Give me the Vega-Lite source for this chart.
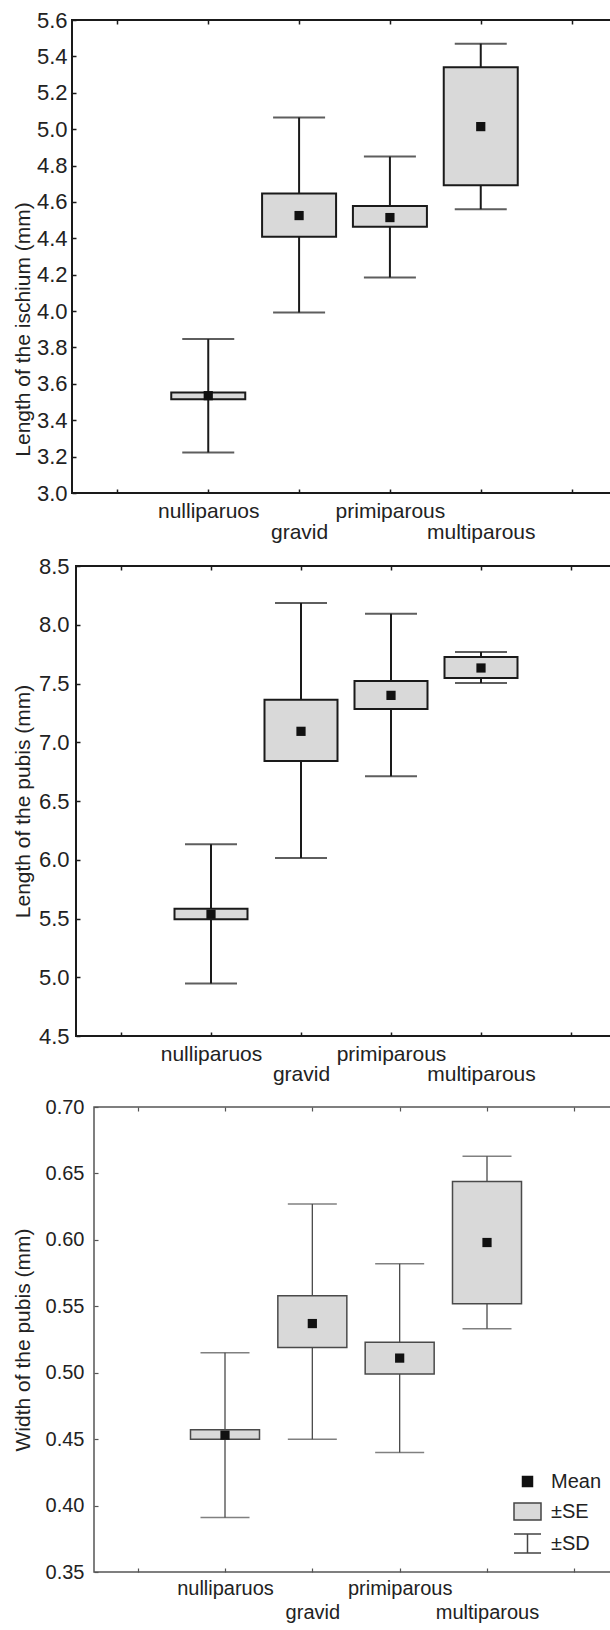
{
  "$schema": "https://vega.github.io/schema/vega-lite/v6.json",
  "padding": {"left": 10, "top": 8, "right": 0, "bottom": 0},
  "background": "white",
  "columns": 2,
  "align": "none",
  "spacing": {"row": 11, "column": 0},
  "resolve": {"legend": {"shape": "independent", "fill": "independent", "stroke": "independent"}},
  "config": {
    "font": "Liberation Sans",
    "axis": {"labelColor": "#222222", "titleColor": "#222222", "labelOverlap": false, "grid": false, "domain": false, "titleFontWeight": "normal"}
  },
  "concat": [
    {"width": 1, "height": 1, "view": {"stroke": null}, "data": {"values": []}, "mark": "point"},
    {
      "width": 540, "height": 473,
      "view": {"stroke": "#1a1a1a", "strokeWidth": 2},
      "data": {"values": [
        {"group": "nulliparuos", "mean": 3.535, "seLow": 3.516, "seHigh": 3.553, "sdLow": 3.223, "sdHigh": 3.846},
        {"group": "gravid", "mean": 4.525, "seLow": 4.408, "seHigh": 4.646, "sdLow": 3.992, "sdHigh": 5.064},
        {"group": "primiparous", "mean": 4.514, "seLow": 4.463, "seHigh": 4.578, "sdLow": 4.185, "sdHigh": 4.849},
        {"group": "multiparous", "mean": 5.014, "seLow": 4.692, "seHigh": 5.340, "sdLow": 4.560, "sdHigh": 5.470}
      ]},
      "resolve": {"axis": {"x": "independent"}},
      "layer": [
        {"mark": {"type": "rule", "color": "#1a1a1a", "strokeWidth": 2},
         "encoding": {
           "x": {"field": "group", "type": "nominal", "scale": {"type": "point", "domain": [" ", "nulliparuos", "gravid", "primiparous", "multiparous", "  "], "padding": 0.5, "range": [0, 545]}, "axis": null},
           "y": {"field": "sdLow", "type": "quantitative", "scale": {"domain": [3.0, 5.6], "nice": false, "zero": false},
                 "axis": {"title": "Length of the ischium (mm)", "values": [3.0, 3.2, 3.4, 3.6, 3.8, 4.0, 4.2, 4.4, 4.6, 4.8, 5.0, 5.2, 5.4, 5.6], "format": ".1f", "tickSize": -4, "tickWidth": 1.5, "tickColor": "#1a1a1a", "labelPadding": 9, "labelFontSize": 22, "titleFontSize": 21, "titleBaseline": "top", "titleX": -60, "titleY": 309}},
           "y2": {"field": "sdHigh"}}},
        {"mark": {"type": "tick", "color": "#1a1a1a", "thickness": 2, "size": 52},
         "encoding": {
           "x": {"field": "group", "type": "nominal", "scale": {"type": "point", "domain": [" ", "nulliparuos", "gravid", "primiparous", "multiparous", "  "], "padding": 0.5, "range": [0, 545]}, "axis": null},
           "y": {"field": "sdLow", "type": "quantitative", "scale": {"domain": [3.0, 5.6], "nice": false, "zero": false},
                 "axis": {"title": "Length of the ischium (mm)", "values": [3.0, 3.2, 3.4, 3.6, 3.8, 4.0, 4.2, 4.4, 4.6, 4.8, 5.0, 5.2, 5.4, 5.6], "format": ".1f", "tickSize": -4, "tickWidth": 1.5, "tickColor": "#1a1a1a", "labelPadding": 9, "labelFontSize": 22, "titleFontSize": 21, "titleBaseline": "top", "titleX": -60, "titleY": 309}}}},
        {"mark": {"type": "tick", "color": "#1a1a1a", "thickness": 2, "size": 52},
         "encoding": {
           "x": {"field": "group", "type": "nominal", "scale": {"type": "point", "domain": [" ", "nulliparuos", "gravid", "primiparous", "multiparous", "  "], "padding": 0.5, "range": [0, 545]}, "axis": null},
           "y": {"field": "sdHigh", "type": "quantitative", "scale": {"domain": [3.0, 5.6], "nice": false, "zero": false},
                 "axis": {"title": "Length of the ischium (mm)", "values": [3.0, 3.2, 3.4, 3.6, 3.8, 4.0, 4.2, 4.4, 4.6, 4.8, 5.0, 5.2, 5.4, 5.6], "format": ".1f", "tickSize": -4, "tickWidth": 1.5, "tickColor": "#1a1a1a", "labelPadding": 9, "labelFontSize": 22, "titleFontSize": 21, "titleBaseline": "top", "titleX": -60, "titleY": 309}}}},
        {"mark": {"type": "bar", "fill": "#d9d9d9", "stroke": "#1a1a1a", "strokeWidth": 2, "width": 74},
         "encoding": {
           "x": {"field": "group", "type": "nominal", "scale": {"type": "point", "domain": [" ", "nulliparuos", "gravid", "primiparous", "multiparous", "  "], "padding": 0.5, "range": [0, 545]},
                 "axis": {"title": null, "tickSize": -4, "tickWidth": 1.5, "tickColor": "#1a1a1a", "labelPadding": 11, "labelAngle": 0, "labelBaseline": "top", "labelFontSize": 21, "labelLineHeight": 21, "labelExpr": "datum.value == 'gravid' || datum.value == 'multiparous' ? ['', datum.label] : datum.label"}},
           "y": {"field": "seLow", "type": "quantitative", "scale": {"domain": [3.0, 5.6], "nice": false, "zero": false},
                 "axis": {"title": "Length of the ischium (mm)", "values": [3.0, 3.2, 3.4, 3.6, 3.8, 4.0, 4.2, 4.4, 4.6, 4.8, 5.0, 5.2, 5.4, 5.6], "format": ".1f", "tickSize": -4, "tickWidth": 1.5, "tickColor": "#1a1a1a", "labelPadding": 9, "labelFontSize": 22, "titleFontSize": 21, "titleBaseline": "top", "titleX": -60, "titleY": 309}},
           "y2": {"field": "seHigh"}}},
        {"mark": {"type": "point", "shape": "square", "filled": true, "color": "#111111", "size": 85, "opacity": 1},
         "encoding": {
           "x": {"field": "group", "type": "nominal", "scale": {"type": "point", "domain": [" ", "nulliparuos", "gravid", "primiparous", "multiparous", "  "], "padding": 0.5, "range": [0, 545]},
                 "axis": {"orient": "top", "title": null, "labels": false, "tickSize": -4, "tickWidth": 1.5, "tickColor": "#1a1a1a"}},
           "y": {"field": "mean", "type": "quantitative", "scale": {"domain": [3.0, 5.6], "nice": false, "zero": false},
                 "axis": {"title": "Length of the ischium (mm)", "values": [3.0, 3.2, 3.4, 3.6, 3.8, 4.0, 4.2, 4.4, 4.6, 4.8, 5.0, 5.2, 5.4, 5.6], "format": ".1f", "tickSize": -4, "tickWidth": 1.5, "tickColor": "#1a1a1a", "labelPadding": 9, "labelFontSize": 22, "titleFontSize": 21, "titleBaseline": "top", "titleX": -60, "titleY": 309}}}}
      ]
    },
    {"width": 1, "height": 1, "view": {"stroke": null}, "data": {"values": []}, "mark": "point"},
    {
      "width": 536, "height": 470,
      "view": {"stroke": "#1a1a1a", "strokeWidth": 2},
      "data": {"values": [
        {"group": "nulliparuos", "mean": 5.536, "seLow": 5.493, "seHigh": 5.584, "sdLow": 4.946, "sdHigh": 6.131},
        {"group": "gravid", "mean": 7.093, "seLow": 6.840, "seHigh": 7.362, "sdLow": 6.015, "sdHigh": 8.185},
        {"group": "primiparous", "mean": 7.399, "seLow": 7.283, "seHigh": 7.521, "sdLow": 6.710, "sdHigh": 8.094},
        {"group": "multiparous", "mean": 7.632, "seLow": 7.547, "seHigh": 7.726, "sdLow": 7.504, "sdHigh": 7.768}
      ]},
      "resolve": {"axis": {"x": "independent"}},
      "layer": [
        {"mark": {"type": "rule", "color": "#1a1a1a", "strokeWidth": 2},
         "encoding": {
           "x": {"field": "group", "type": "nominal", "scale": {"type": "point", "domain": [" ", "nulliparuos", "gravid", "primiparous", "multiparous", "  "], "padding": 0.5, "range": [0, 540]}, "axis": null},
           "y": {"field": "sdLow", "type": "quantitative", "scale": {"domain": [4.5, 8.5], "nice": false, "zero": false},
                 "axis": {"title": "Length of the pubis (mm)", "values": [4.5, 5.0, 5.5, 6.0, 6.5, 7.0, 7.5, 8.0, 8.5], "format": ".1f", "tickSize": -4, "tickWidth": 1.5, "tickColor": "#1a1a1a", "labelPadding": 11, "labelFontSize": 22, "titleFontSize": 21, "titleBaseline": "top", "titleX": -64}},
           "y2": {"field": "sdHigh"}}},
        {"mark": {"type": "tick", "color": "#1a1a1a", "thickness": 2, "size": 52},
         "encoding": {
           "x": {"field": "group", "type": "nominal", "scale": {"type": "point", "domain": [" ", "nulliparuos", "gravid", "primiparous", "multiparous", "  "], "padding": 0.5, "range": [0, 540]}, "axis": null},
           "y": {"field": "sdLow", "type": "quantitative", "scale": {"domain": [4.5, 8.5], "nice": false, "zero": false},
                 "axis": {"title": "Length of the pubis (mm)", "values": [4.5, 5.0, 5.5, 6.0, 6.5, 7.0, 7.5, 8.0, 8.5], "format": ".1f", "tickSize": -4, "tickWidth": 1.5, "tickColor": "#1a1a1a", "labelPadding": 11, "labelFontSize": 22, "titleFontSize": 21, "titleBaseline": "top", "titleX": -64}}}},
        {"mark": {"type": "tick", "color": "#1a1a1a", "thickness": 2, "size": 52},
         "encoding": {
           "x": {"field": "group", "type": "nominal", "scale": {"type": "point", "domain": [" ", "nulliparuos", "gravid", "primiparous", "multiparous", "  "], "padding": 0.5, "range": [0, 540]}, "axis": null},
           "y": {"field": "sdHigh", "type": "quantitative", "scale": {"domain": [4.5, 8.5], "nice": false, "zero": false},
                 "axis": {"title": "Length of the pubis (mm)", "values": [4.5, 5.0, 5.5, 6.0, 6.5, 7.0, 7.5, 8.0, 8.5], "format": ".1f", "tickSize": -4, "tickWidth": 1.5, "tickColor": "#1a1a1a", "labelPadding": 11, "labelFontSize": 22, "titleFontSize": 21, "titleBaseline": "top", "titleX": -64}}}},
        {"mark": {"type": "bar", "fill": "#d9d9d9", "stroke": "#1a1a1a", "strokeWidth": 2, "width": 73},
         "encoding": {
           "x": {"field": "group", "type": "nominal", "scale": {"type": "point", "domain": [" ", "nulliparuos", "gravid", "primiparous", "multiparous", "  "], "padding": 0.5, "range": [0, 540]},
                 "axis": {"title": null, "tickSize": -4, "tickWidth": 1.5, "tickColor": "#1a1a1a", "labelPadding": 11, "labelAngle": 0, "labelBaseline": "top", "labelFontSize": 21, "labelLineHeight": 20, "labelExpr": "datum.value == 'gravid' || datum.value == 'multiparous' ? ['', datum.label] : datum.label"}},
           "y": {"field": "seLow", "type": "quantitative", "scale": {"domain": [4.5, 8.5], "nice": false, "zero": false},
                 "axis": {"title": "Length of the pubis (mm)", "values": [4.5, 5.0, 5.5, 6.0, 6.5, 7.0, 7.5, 8.0, 8.5], "format": ".1f", "tickSize": -4, "tickWidth": 1.5, "tickColor": "#1a1a1a", "labelPadding": 11, "labelFontSize": 22, "titleFontSize": 21, "titleBaseline": "top", "titleX": -64}},
           "y2": {"field": "seHigh"}}},
        {"mark": {"type": "point", "shape": "square", "filled": true, "color": "#111111", "size": 85, "opacity": 1},
         "encoding": {
           "x": {"field": "group", "type": "nominal", "scale": {"type": "point", "domain": [" ", "nulliparuos", "gravid", "primiparous", "multiparous", "  "], "padding": 0.5, "range": [0, 540]},
                 "axis": {"orient": "top", "title": null, "labels": false, "tickSize": -4, "tickWidth": 1.5, "tickColor": "#1a1a1a"}},
           "y": {"field": "mean", "type": "quantitative", "scale": {"domain": [4.5, 8.5], "nice": false, "zero": false},
                 "axis": {"title": "Length of the pubis (mm)", "values": [4.5, 5.0, 5.5, 6.0, 6.5, 7.0, 7.5, 8.0, 8.5], "format": ".1f", "tickSize": -4, "tickWidth": 1.5, "tickColor": "#1a1a1a", "labelPadding": 11, "labelFontSize": 22, "titleFontSize": 21, "titleBaseline": "top", "titleX": -64}}}}
      ]
    },
    {"width": 1, "height": 1, "view": {"stroke": null}, "data": {"values": []}, "mark": "point"},
    {
      "width": 518, "height": 465,
      "view": {"stroke": "#555555", "strokeWidth": 1.5},
      "data": {"values": [
        {"group": "nulliparuos", "mean": 0.453, "seLow": 0.450, "seHigh": 0.457, "sdLow": 0.391, "sdHigh": 0.515},
        {"group": "gravid", "mean": 0.537, "seLow": 0.519, "seHigh": 0.558, "sdLow": 0.450, "sdHigh": 0.627},
        {"group": "primiparous", "mean": 0.511, "seLow": 0.499, "seHigh": 0.523, "sdLow": 0.440, "sdHigh": 0.582},
        {"group": "multiparous", "mean": 0.598, "seLow": 0.552, "seHigh": 0.644, "sdLow": 0.533, "sdHigh": 0.663}
      ]},
      "resolve": {"axis": {"x": "independent"}},
      "layer": [
        {"mark": {"type": "rule", "color": "#4a4a4a", "strokeWidth": 1.3},
         "encoding": {
           "x": {"field": "group", "type": "nominal", "scale": {"type": "point", "domain": [" ", "nulliparuos", "gravid", "primiparous", "multiparous", "  "], "padding": 0.5, "range": [0, 524]}, "axis": null},
           "y": {"field": "sdLow", "type": "quantitative", "scale": {"domain": [0.35, 0.70], "nice": false, "zero": false},
                 "axis": {"title": "Width of the pubis (mm)", "values": [0.35, 0.40, 0.45, 0.50, 0.55, 0.60, 0.65, 0.70], "format": ".2f", "tickSize": -4, "tickWidth": 1.2, "tickColor": "#555555", "labelPadding": 14, "labelFontSize": 20, "titleFontSize": 21, "titleBaseline": "top", "titleX": -82}},
           "y2": {"field": "sdHigh"}}},
        {"mark": {"type": "tick", "color": "#4a4a4a", "thickness": 1.5, "size": 49},
         "encoding": {
           "x": {"field": "group", "type": "nominal", "scale": {"type": "point", "domain": [" ", "nulliparuos", "gravid", "primiparous", "multiparous", "  "], "padding": 0.5, "range": [0, 524]}, "axis": null},
           "y": {"field": "sdLow", "type": "quantitative", "scale": {"domain": [0.35, 0.70], "nice": false, "zero": false},
                 "axis": {"title": "Width of the pubis (mm)", "values": [0.35, 0.40, 0.45, 0.50, 0.55, 0.60, 0.65, 0.70], "format": ".2f", "tickSize": -4, "tickWidth": 1.2, "tickColor": "#555555", "labelPadding": 14, "labelFontSize": 20, "titleFontSize": 21, "titleBaseline": "top", "titleX": -82}}}},
        {"mark": {"type": "tick", "color": "#4a4a4a", "thickness": 1.5, "size": 49},
         "encoding": {
           "x": {"field": "group", "type": "nominal", "scale": {"type": "point", "domain": [" ", "nulliparuos", "gravid", "primiparous", "multiparous", "  "], "padding": 0.5, "range": [0, 524]}, "axis": null},
           "y": {"field": "sdHigh", "type": "quantitative", "scale": {"domain": [0.35, 0.70], "nice": false, "zero": false},
                 "axis": {"title": "Width of the pubis (mm)", "values": [0.35, 0.40, 0.45, 0.50, 0.55, 0.60, 0.65, 0.70], "format": ".2f", "tickSize": -4, "tickWidth": 1.2, "tickColor": "#555555", "labelPadding": 14, "labelFontSize": 20, "titleFontSize": 21, "titleBaseline": "top", "titleX": -82}}}},
        {"mark": {"type": "bar", "fill": "#d9d9d9", "stroke": "#4a4a4a", "strokeWidth": 1.5, "width": 69},
         "encoding": {
           "x": {"field": "group", "type": "nominal", "scale": {"type": "point", "domain": [" ", "nulliparuos", "gravid", "primiparous", "multiparous", "  "], "padding": 0.5, "range": [0, 524]},
                 "axis": {"title": null, "tickSize": -4, "tickWidth": 1.2, "tickColor": "#555555", "labelPadding": 10, "labelAngle": 0, "labelBaseline": "top", "labelFontSize": 20, "labelLineHeight": 24, "labelExpr": "datum.value == 'gravid' || datum.value == 'multiparous' ? ['', datum.label] : datum.label"}},
           "y": {"field": "seLow", "type": "quantitative", "scale": {"domain": [0.35, 0.70], "nice": false, "zero": false},
                 "axis": {"title": "Width of the pubis (mm)", "values": [0.35, 0.40, 0.45, 0.50, 0.55, 0.60, 0.65, 0.70], "format": ".2f", "tickSize": -4, "tickWidth": 1.2, "tickColor": "#555555", "labelPadding": 14, "labelFontSize": 20, "titleFontSize": 21, "titleBaseline": "top", "titleX": -82}},
           "y2": {"field": "seHigh"}}},
        {"mark": {"type": "point", "shape": "square", "filled": true, "color": "#111111", "size": 85, "opacity": 1},
         "encoding": {
           "x": {"field": "group", "type": "nominal", "scale": {"type": "point", "domain": [" ", "nulliparuos", "gravid", "primiparous", "multiparous", "  "], "padding": 0.5, "range": [0, 524]},
                 "axis": {"orient": "top", "title": null, "labels": false, "tickSize": -4, "tickWidth": 1.2, "tickColor": "#555555"}},
           "y": {"field": "mean", "type": "quantitative", "scale": {"domain": [0.35, 0.70], "nice": false, "zero": false},
                 "axis": {"title": "Width of the pubis (mm)", "values": [0.35, 0.40, 0.45, 0.50, 0.55, 0.60, 0.65, 0.70], "format": ".2f", "tickSize": -4, "tickWidth": 1.2, "tickColor": "#555555", "labelPadding": 14, "labelFontSize": 20, "titleFontSize": 21, "titleBaseline": "top", "titleX": -82}}}},
        {"data": {"values": [{"stat": "Mean"}, {"stat": "±SE"}, {"stat": "±SD"}]},
         "mark": {"type": "point", "opacity": 0, "size": 729, "strokeWidth": 1.5, "filled": true},
         "encoding": {
           "shape": {"field": "stat", "type": "nominal", "scale": {"domain": ["Mean", "±SE", "±SD"], "range": ["M-0.37,-0.37H0.37V0.37H-0.37Z", "M-1,-0.63H1V0.63H-1Z", "M-1,-0.7H1M0,-0.7V0.7M-1,0.7H1"]},
                     "legend": {"title": null, "orient": "none", "legendX": 419, "legendY": 360, "symbolSize": 729, "symbolStrokeWidth": 1.5, "labelFontSize": 20, "labelColor": "#222222", "labelOffset": 9, "rowPadding": 5, "symbolOpacity": 1}},
           "fill": {"field": "stat", "type": "nominal", "scale": {"domain": ["Mean", "±SE", "±SD"], "range": ["#111111", "#d9d9d9", "transparent"]},
                    "legend": {"title": null, "orient": "none", "legendX": 419, "legendY": 360, "symbolSize": 729, "symbolStrokeWidth": 1.5, "labelFontSize": 20, "labelColor": "#222222", "labelOffset": 9, "rowPadding": 5, "symbolOpacity": 1}},
           "stroke": {"field": "stat", "type": "nominal", "scale": {"domain": ["Mean", "±SE", "±SD"], "range": ["#111111", "#444444", "#444444"]},
                      "legend": {"title": null, "orient": "none", "legendX": 419, "legendY": 360, "symbolSize": 729, "symbolStrokeWidth": 1.5, "labelFontSize": 20, "labelColor": "#222222", "labelOffset": 9, "rowPadding": 5, "symbolOpacity": 1}}
         }}
      ]
    }
  ]
}
